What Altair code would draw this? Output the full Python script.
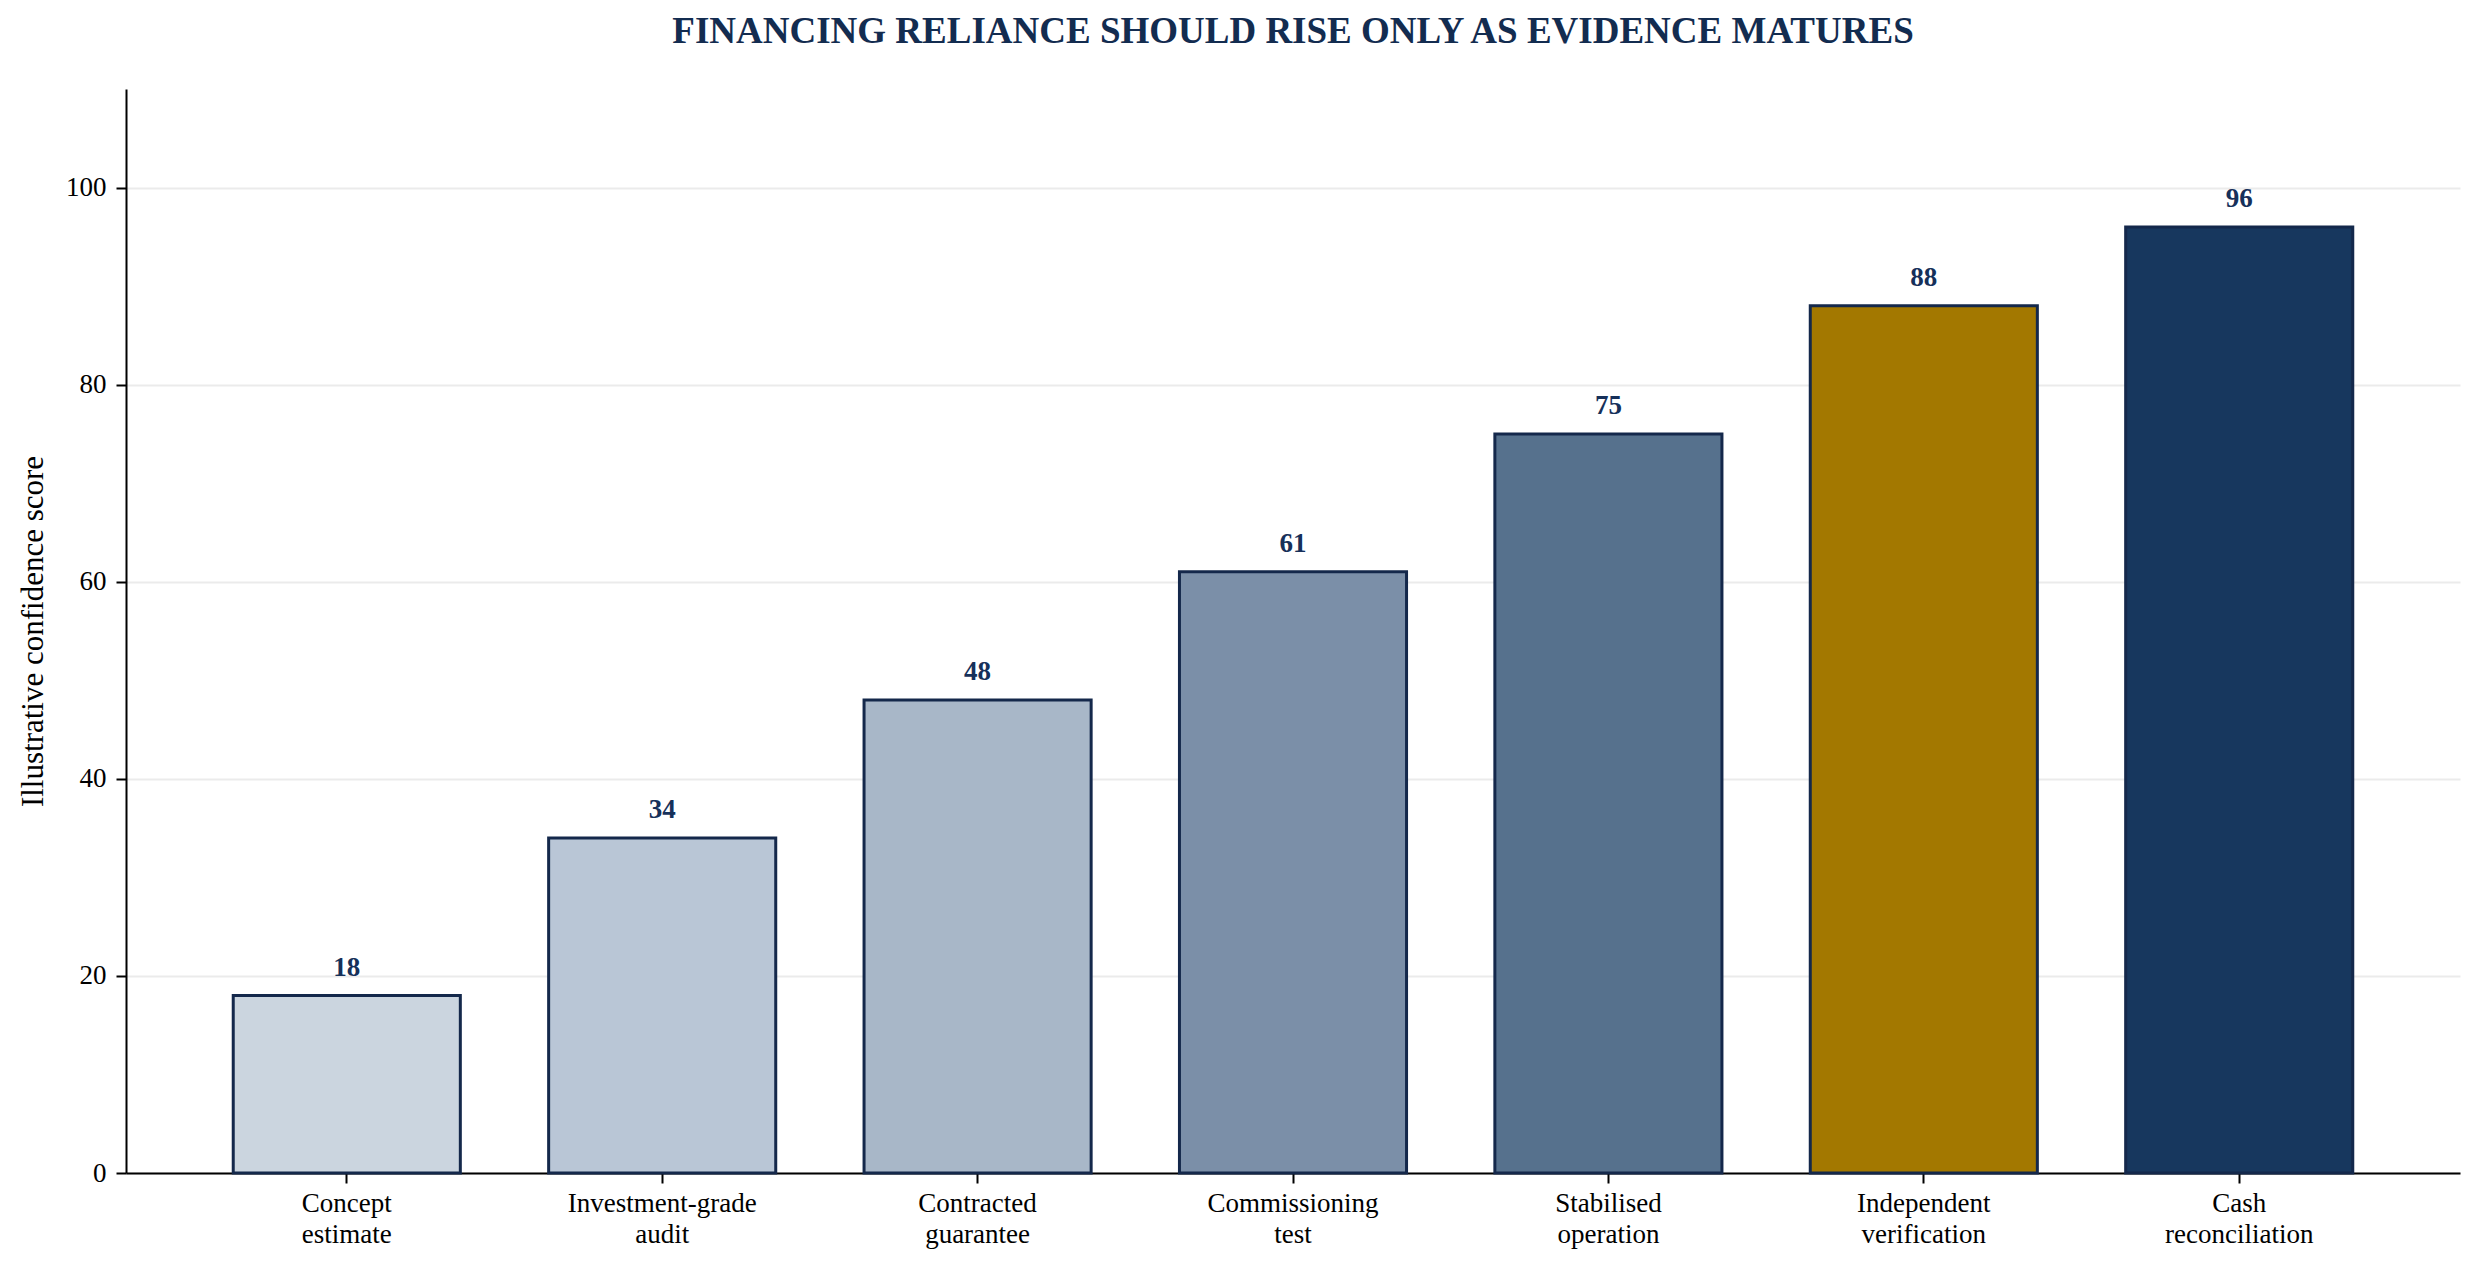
import altair as alt
import pandas as pd

categories = [
    "Concept\nestimate",
    "Investment-grade\naudit",
    "Contracted\nguarantee",
    "Commissioning\ntest",
    "Stabilised\noperation",
    "Independent\nverification",
    "Cash\nreconciliation",
]
scores = [18, 34, 48, 61, 75, 88, 96]
colors = ["#cbd5df", "#b9c6d6", "#a8b7c8", "#7b8fa8", "#56718d", "#a37800", "#17375e"]

df = pd.DataFrame({"stage": categories, "score": scores, "color": colors})

FONT = "Liberation Serif"
NAVY = "#14284b"

x = alt.X(
    "stage:N",
    sort=categories,
    title=None,
    scale=alt.Scale(paddingInner=0.28, paddingOuter=0.34),
    axis=alt.Axis(
        labelExpr="split(datum.label, '\\n')",
        labelAngle=0,
        labelFont=FONT,
        labelFontSize=27,
        labelLineHeight=31,
        labelColor="black",
        labelPadding=7,
        labelLimit=500,
        tickColor="black",
        tickSize=10,
        tickWidth=2,
        domainColor="black",
        domainWidth=2,
        grid=False,
    ),
)

y = alt.Y(
    "score:Q",
    title="Illustrative confidence score",
    scale=alt.Scale(domain=[0, 110], nice=False),
    axis=alt.Axis(
        values=[0, 20, 40, 60, 80, 100],
        labelFont=FONT,
        labelFontSize=27,
        labelColor="black",
        labelPadding=10,
        tickColor="black",
        tickSize=10,
        tickWidth=2,
        domainColor="black",
        domainWidth=2,
        grid=True,
        gridColor="#ebebeb",
        gridWidth=2,
        titleFont=FONT,
        titleFontSize=31,
        titleFontWeight="normal",
        titleColor="black",
        titlePadding=16,
    ),
)

bars = alt.Chart(df).mark_bar(stroke=NAVY, strokeWidth=3).encode(
    x=x,
    y=y,
    fill=alt.Fill("color:N", scale=None),
)

labels = alt.Chart(df).mark_text(
    font=FONT,
    fontSize=27,
    fontWeight="bold",
    color="#16305a",
    baseline="alphabetic",
    dy=-20,
).encode(
    x=alt.X("stage:N", sort=categories),
    y=alt.Y("score:Q"),
    text=alt.Text("score:Q"),
)

chart = (
    alt.layer(bars, labels)
    .properties(
        width=2334,
        height=1084,
        autosize=alt.AutoSizeParams(type="none"),
        padding={"left": 118, "top": 81, "right": 13, "bottom": 95},
        title=alt.TitleParams(
            "FINANCING RELIANCE SHOULD RISE ONLY AS EVIDENCE MATURES",
            font=FONT,
            fontSize=37,
            fontWeight="bold",
            color="#132c50",
            anchor="middle",
            baseline="alphabetic",
            offset=9,
        ),
    )
    .configure_view(stroke=None)
)

chart.save("out.html", embed_options={"renderer": "svg", "actions": False})
